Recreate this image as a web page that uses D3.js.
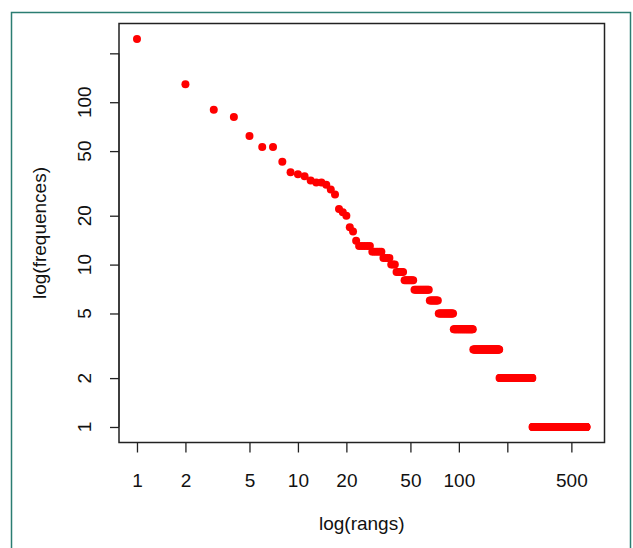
<!DOCTYPE html>
<html>
<head>
<meta charset="utf-8">
<script src="https://cdn.jsdelivr.net/npm/d3@7/dist/d3.min.js"></script>
<style>
  body { margin: 0; background: #fff; }
  text { font-family: "Liberation Sans", Arial, sans-serif; fill: #111; }
</style>
</head>
<body>
<div id="chart"></div>
<script>
// Frequencies of the first ranks, read one by one
var topFreqs = [245, 129, 90, 81, 62, 53, 53, 43, 37, 36, 35, 33, 32, 32, 31, 29, 27, 22, 21, 20, 17, 16, 14];
// After that the frequencies come in flat runs: value and last rank of each run
var runFreqs = [13, 12, 11, 10, 9, 8, 7, 6, 5, 4, 3, 2, 1];
var runLastRanks = [28, 33, 37, 40, 45, 52, 65, 74, 92, 122, 178, 286, 621];

var xTicks = [1, 2, 5, 10, 20, 50, 100, 200, 500];
var yTicks = [1, 2, 5, 10, 20, 50, 100, 200];
var xLabels = ["1", "2", "5", "10", "20", "50", "100", "", "500"];
var yLabels = ["1", "2", "5", "10", "20", "50", "100", ""];

// Build rank / frequency pairs
var points = [];
topFreqs.forEach(function(f, i) {
    points.push({ rank: i + 1, freq: f });
});
var rank = topFreqs.length + 1;
runFreqs.forEach(function(f, i) {
    for (; rank <= runLastRanks[i]; rank++) {
        points.push({ rank: rank, freq: f });
    }
});

var svgWidth = 633;
var svgHeight = 548;

var box = { left: 119, right: 604.5, top: 23.5, bottom: 442.5 };

var svg = d3.select("#chart")
  .append("svg")
  .attr("width", svgWidth)
  .attr("height", svgHeight);

// outer teal frame
svg.append("rect")
    .attr("x", 11.5)
    .attr("y", 12.5)
    .attr("width", 619)
    .attr("height", 600)
    .attr("fill", "#fff")
    .attr("stroke", "#2b7d72")
    .attr("stroke-width", 1.5);

// R style log scales: data range padded by 4% on each side
function paddedLogDomain(minV, maxV) {
    var lo = Math.log10(minV), hi = Math.log10(maxV);
    var pad = 0.04 * (hi - lo);
    return [Math.pow(10, lo - pad), Math.pow(10, hi + pad)];
}

var x = d3.scaleLog()
    .domain(paddedLogDomain(d3.min(points, d => d.rank), d3.max(points, d => d.rank)))
    .range([box.left, box.right]);

var y = d3.scaleLog()
    .domain(paddedLogDomain(d3.min(points, d => d.freq), d3.max(points, d => d.freq)))
    .range([box.bottom, box.top]);

// x axis
var xAxis = svg.append("g")
    .attr("transform", `translate(0, ${box.bottom})`)
    .call(d3.axisBottom(x)
        .tickValues(xTicks)
        .tickFormat((d, i) => xLabels[i])
        .tickSize(10)
        .tickPadding(21));
xAxis.select(".domain")
    .attr("d", `M${x(xTicks[0])},0H${x(xTicks[xTicks.length - 1])}`)
    .attr("stroke", "#222");
xAxis.selectAll(".tick line").attr("stroke", "#222").attr("stroke-width", 1.3);
xAxis.selectAll("text")
    .style("font-size", "19px")
    .style("font-family", '"Liberation Sans", Arial, sans-serif')
    .attr("fill", "#111");

// y axis, labels drawn rotated like R
var yAxis = svg.append("g")
    .attr("transform", `translate(${box.left}, 0)`)
    .call(d3.axisLeft(y)
        .tickValues(yTicks)
        .tickFormat("")
        .tickSize(9));
yAxis.select(".domain")
    .attr("d", `M0,${y(yTicks[0])}V${y(yTicks[yTicks.length - 1])}`)
    .attr("stroke", "#222");
yAxis.selectAll(".tick line").attr("stroke", "#222").attr("stroke-width", 1.3);

svg.append("g")
    .selectAll("text")
    .data(yTicks)
    .enter()
    .append("text")
    .attr("transform", d => `translate(91, ${y(d)}) rotate(-90)`)
    .attr("text-anchor", "middle")
    .style("font-size", "19px")
    .text((d, i) => yLabels[i]);

// plot box
svg.append("rect")
    .attr("x", box.left)
    .attr("y", box.top)
    .attr("width", box.right - box.left)
    .attr("height", box.bottom - box.top)
    .attr("fill", "none")
    .attr("stroke", "#222")
    .attr("stroke-width", 1.5);

// axis titles
svg.append("text")
    .attr("x", (box.left + box.right) / 2)
    .attr("y", 523)
    .attr("dy", "0.35em")
    .attr("text-anchor", "middle")
    .style("font-size", "19px")
    .text("log(rangs)");

svg.append("text")
    .attr("transform", `translate(39, ${(box.top + box.bottom) / 2}) rotate(-90)`)
    .attr("dy", "0.35em")
    .attr("text-anchor", "middle")
    .style("font-size", "19px")
    .text("log(frequences)");

// points
svg.append("g")
    .selectAll("circle")
    .data(points)
    .enter()
    .append("circle")
    .attr("cx", d => x(d.rank))
    .attr("cy", d => y(d.freq))
    .attr("r", 4)
    .attr("fill", "red");
</script>
</body>
</html>
